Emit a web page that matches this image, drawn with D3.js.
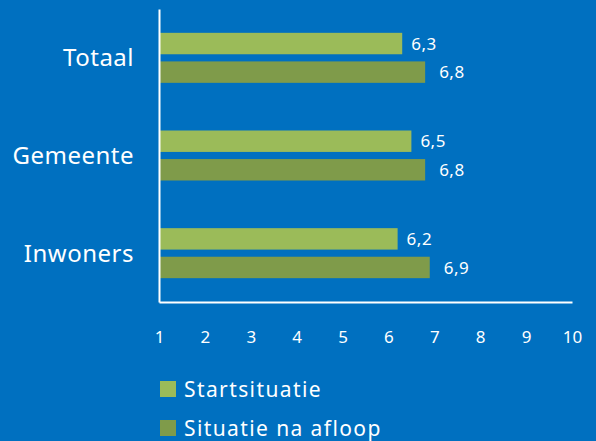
<!DOCTYPE html>
<html>
<head>
<meta charset="utf-8">
<script src="https://cdn.jsdelivr.net/npm/d3@7"></script>
<style>
  body { margin: 0; background: #0070C0; }
  svg { display: block; }
  text { font-family: "Noto Sans", sans-serif; fill: #fff; }
</style>
</head>
<body>
<svg class="chart" width="596" height="441"></svg>
<script>
//------------------------------------------------------------------------------
//Data
//------------------------------------------------------------------------------
var categories = ["Totaal", "Gemeente", "Inwoners"];
var seriesNames = ["Startsituatie", "Situatie na afloop"];
var startValues = [6.3, 6.5, 6.2];
var afloopValues = [6.8, 6.8, 6.9];
var xTicks = [1, 2, 3, 4, 5, 6, 7, 8, 9, 10];

var colors = ["#9BBB59", "#7F9B4A"];
var labelOffset = [9, 14];

//------------------------------------------------------------------------------
//Chart
//------------------------------------------------------------------------------
function drawChart() {
  var svg = d3.select(".chart");
  var left = 159, right = 572, top = 9, bottom = 302;

  var x = d3.scaleLinear().domain([1, 10]).range([left, right]);
  var y = d3.scaleBand().domain(categories).range([top, bottom])
    .paddingInner(0.488).paddingOuter(0.244);
  var sub = d3.scaleBand().domain(seriesNames).range([0, y.bandwidth()])
    .paddingInner(0.25);

  var rows = [];
  categories.forEach(function (c, i) {
    rows.push({ cat: c, s: 0, v: startValues[i] });
    rows.push({ cat: c, s: 1, v: afloopValues[i] });
  });

  // bars
  svg.append("g").selectAll("rect")
    .data(rows)
    .enter()
    .append("rect")
      .attr("x", x(1))
      .attr("y", function (d) { return y(d.cat) + sub(seriesNames[d.s]); })
      .attr("width", function (d) { return x(d.v) - x(1); })
      .attr("height", sub.bandwidth())
      .attr("fill", function (d) { return colors[d.s]; });

  // value labels
  svg.append("g").selectAll("text")
    .data(rows)
    .enter()
    .append("text")
      .attr("x", function (d) { return x(d.v) + labelOffset[d.s]; })
      .attr("y", function (d) { return y(d.cat) + sub(seriesNames[d.s]) + sub.bandwidth() / 2; })
      .attr("dy", "0.36em")
      .attr("font-size", "17px")
      .attr("letter-spacing", "0.5px")
      .text(function (d) { return String(d.v).replace(".", ","); });

  // category labels
  svg.append("g").selectAll("text")
    .data(categories)
    .enter()
    .append("text")
      .attr("x", 134)
      .attr("y", function (d) { return y(d) + y.bandwidth() / 2; })
      .attr("dy", "0.36em")
      .attr("text-anchor", "end")
      .attr("font-size", "24px")
      .attr("letter-spacing", "0.5px")
      .text(function (d) { return d; });

  // x axis
  var xAxis = svg.append("g")
    .attr("transform", "translate(0," + bottom + ")")
    .call(d3.axisBottom(x).tickValues(xTicks).tickSize(0).tickPadding(29));
  xAxis.select(".domain").attr("stroke", "#fff").attr("stroke-width", 2);
  xAxis.selectAll("text")
    .attr("fill", "#fff")
    .attr("font-size", "17px")
    .attr("font-family", "Noto Sans, sans-serif");

  // y axis line
  var yAxis = svg.append("g")
    .attr("transform", "translate(" + left + ",0)")
    .call(d3.axisLeft(y).tickSize(0).tickFormat(""));
  yAxis.select(".domain").attr("stroke", "#fff").attr("stroke-width", 2);

  // legend
  var legend = svg.append("g").selectAll("g")
    .data(seriesNames)
    .enter()
    .append("g")
      .attr("transform", function (d, i) { return "translate(160," + (381 + i * 39) + ")"; });
  legend.append("rect")
    .attr("width", 16)
    .attr("height", 16)
    .attr("fill", function (d, i) { return colors[i]; });
  legend.append("text")
    .attr("x", 24)
    .attr("y", 8)
    .attr("dy", "0.4em")
    .attr("font-size", "21px")
    .attr("letter-spacing", "1.4px")
    .text(function (d) { return d; });
}

drawChart();
</script>
</body>
</html>
